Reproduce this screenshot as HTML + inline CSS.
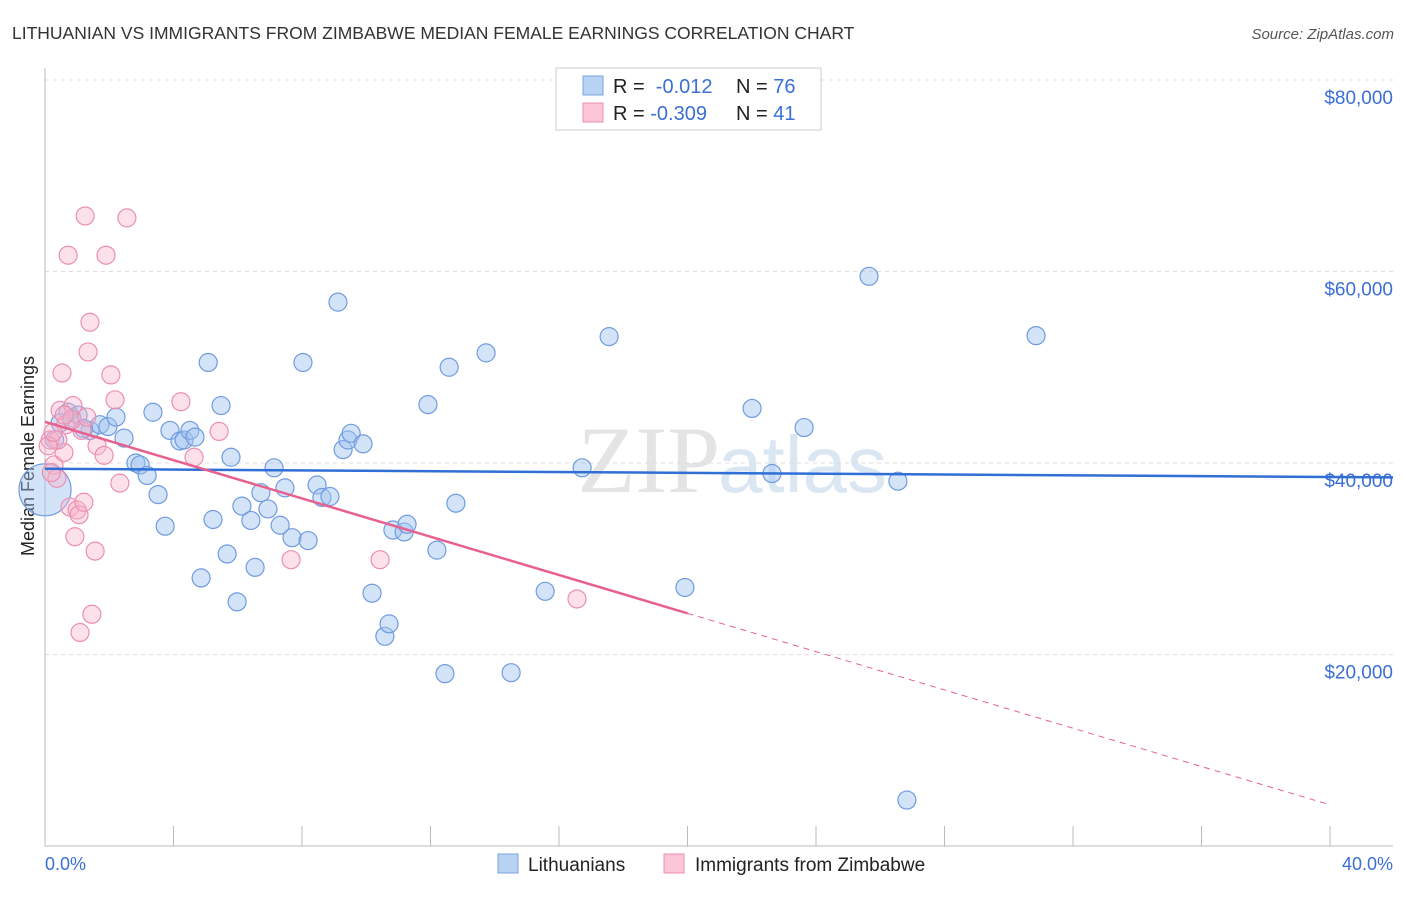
<!DOCTYPE html>
<html><head><meta charset="utf-8"><style>
body{margin:0;background:#fff;font-family:"Liberation Sans",sans-serif}
</style></head><body>
<svg id="c" width="1406" height="892" xmlns="http://www.w3.org/2000/svg">
<text x="12" y="39" font-size="17.5" fill="#333">LITHUANIAN VS IMMIGRANTS FROM ZIMBABWE MEDIAN FEMALE EARNINGS CORRELATION CHART</text>
<text x="1394" y="39" font-size="15" fill="#555" font-style="italic" text-anchor="end">Source: ZipAtlas.com</text>
<text x="720" y="492" font-size="95" fill="#e4e4e4" text-anchor="end" font-family="Liberation Serif,serif">ZIP</text>
<text x="718" y="492" font-size="80" fill="#dbe6f3">atlas</text>
<g id="grid"></g>
<line x1="45" y1="68" x2="45" y2="846" stroke="#bbb"/>
<line x1="45" y1="846" x2="1393" y2="846" stroke="#bbb"/>
<text transform="translate(34,456) rotate(-90)" font-size="18" fill="#222" text-anchor="middle">Median Female Earnings</text>
<text x="45" y="870" font-size="18" fill="#3b6fd6">0.0%</text>
<text x="1393" y="870" font-size="18" fill="#3b6fd6" text-anchor="end">40.0%</text>
<g id="pts"></g>
<g id="lines"></g>
<g>
<rect x="556" y="68" width="265" height="62" fill="#fff" stroke="#ccc"/>
<rect x="583" y="76" width="20" height="19" fill="#b9d3f5" stroke="#7aa3e0"/>
<rect x="583" y="103" width="20" height="19" fill="#fcc6d6" stroke="#eb8fb0"/>
<text x="613" y="93" font-size="20" fill="#222">R = <tspan fill="#3b6fd6">&#160;-0.012</tspan></text>
<text x="736" y="93" font-size="20" fill="#222">N = <tspan fill="#3b6fd6">76</tspan></text>
<text x="613" y="120" font-size="20" fill="#222">R = <tspan fill="#3b6fd6">-0.309</tspan></text>
<text x="736" y="120" font-size="20" fill="#222">N = <tspan fill="#3b6fd6">41</tspan></text>
</g>
<g>
<rect x="498" y="854" width="20" height="19" fill="#b9d3f5" stroke="#7aa3e0"/>
<text x="528" y="871" font-size="19" fill="#222">Lithuanians</text>
<rect x="664" y="854" width="20" height="19" fill="#fcc6d6" stroke="#eb8fb0"/>
<text x="695" y="871" font-size="19" fill="#222">Immigrants from Zimbabwe</text>
</g>
</svg>
<script>
const yTicks=[20000,40000,60000,80000];
const yTickLabels=["$20,000","$40,000","$60,000","$80,000"];
const xTicks=[0,4,8,12,16,20,24,28,32,36,40];
const blueX=[0.72,0.84,1.03,1.4,1.71,1.96,2.21,2.46,2.83,2.96,3.18,3.36,3.52,3.74,3.89,4.2,4.33,4.51,4.67,4.86,5.08,5.23,5.48,5.67,5.79,5.98,6.13,6.41,6.54,6.72,6.94,7.13,7.32,7.47,7.69,8.03,8.19,8.47,8.62,8.87,9.12,9.28,9.43,9.53,9.9,10.18,10.58,10.71,10.83,11.18,11.27,11.92,12.2,12.58,12.79,13.73,14.51,12.45,15.57,16.72,17.56,19.92,22.01,22.63,23.63,25.65,26.55,26.83,30.85,0.3,0.47,1.2];
const blueY=[45300,44700,45000,43400,44000,43800,44800,42600,40000,39800,38700,45300,36700,33400,43400,42300,42400,43400,42700,28000,50500,34100,46000,30500,40600,25500,35500,34000,29100,36900,35200,39500,33500,37400,32200,50500,31900,37700,36400,36500,56800,41400,42400,43100,42000,26400,21900,23200,33000,32800,33600,46100,30900,50000,35800,51500,18100,18000,26600,39500,53200,27000,45700,38900,43700,59500,38100,4800,53300,42400,44200,43600];
const bigX=[0];const bigY=[37200];
const pinkX=[0.16,0.28,0.37,0.47,0.53,0.59,0.65,0.72,0.78,0.87,0.93,1.0,1.06,1.09,1.15,1.25,1.34,1.4,1.46,1.56,1.62,1.84,1.9,2.05,2.18,2.33,2.55,4.23,4.64,5.42,7.66,10.43,16.56,1.21,0.4,0.84,0.1,0.25,0.6,1.3,0.2];
const pinkY=[42400,39800,38400,45500,49400,41100,44000,61700,35400,46000,32300,35100,34600,22300,43400,65800,51600,54700,24200,30800,41800,40800,61700,49200,46600,37900,65600,46400,40600,43300,29900,29900,25800,35900,42400,44500,41800,43200,45000,44800,39000];
const blueTrend=[39400,38500];const pinkTrend=[44300,4300];
const X=v=>45+v/40*1285, Y=v=>846-v/20000*191.5;
const NS="http://www.w3.org/2000/svg";
function mk(t,a,p){const e=document.createElementNS(NS,t);for(const k in a)e.setAttribute(k,a[k]);p.appendChild(e);return e;}
const g=document.getElementById('grid');
yTicks.forEach((t,i)=>{const l=mk('line',{x1:45,x2:1393,y1:Y(t),y2:Y(t),stroke:'#ddd','stroke-dasharray':'4,4'},g);


const tx=mk('text',{x:1393,y:Y(t)+24,'font-size':19,fill:'#3b6fd6','text-anchor':'end'},g);tx.textContent=yTickLabels[i];

});
xTicks.forEach(t=>{const l=mk('line',{x1:X(t),x2:X(t),y1:826,y2:846,stroke:'#bbb'},g);

});
const p=document.getElementById('pts');
blueX.forEach((x,i)=>{const c=mk('circle',{cx:X(x),cy:Y(blueY[i]),r:9,fill:'rgba(160,196,240,0.45)',stroke:'#6f9be0','stroke-width':1.2},p);

});
bigX.forEach((x,i)=>{const c=mk('circle',{cx:X(x),cy:Y(bigY[i]),r:26,fill:'rgba(160,196,240,0.45)',stroke:'#6f9be0','stroke-width':1.2},p);

});
pinkX.forEach((x,i)=>{const c=mk('circle',{cx:X(x),cy:Y(pinkY[i]),r:9,fill:'rgba(248,180,202,0.4)',stroke:'#eb8fb0','stroke-width':1.2},p);

});
const L=document.getElementById('lines');
let b=mk('line',{x1:X(0),y1:Y(blueTrend[0]),x2:1393,y2:Y(blueTrend[1]),stroke:'#2f6fd6','stroke-width':2.5},L);


const pm=v=>pinkTrend[0]+(pinkTrend[1]-pinkTrend[0])*v/40;
let a=mk('line',{x1:X(0),y1:Y(pm(0)),x2:X(20),y2:Y(pm(20)),stroke:'#e8608e','stroke-width':2.5},L);


let d=mk('line',{x1:X(20),y1:Y(pm(20)),x2:X(40),y2:Y(pm(40)),stroke:'#e8608e','stroke-width':1,'stroke-dasharray':'6,5'},L);


</script>
</body></html>
